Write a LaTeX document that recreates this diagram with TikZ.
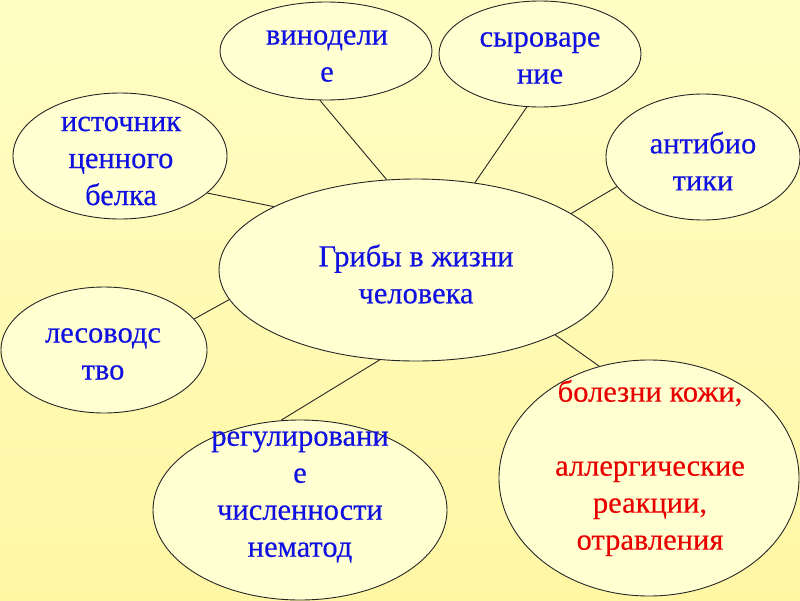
\documentclass[tikz,border=0pt]{standalone}
\usepackage{fontspec}
\setmainfont{Liberation Serif}
\newfontfamily\slidefont[FakeBold=0.35]{Liberation Serif}
\usepackage{xcolor}
\usetikzlibrary{shapes.geometric}

\definecolor{bgtop}{RGB}{255,253,196}
\definecolor{bgbot}{RGB}{255,247,164}
\definecolor{blobfill}{RGB}{255,255,210}
\definecolor{txtblue}{RGB}{16,16,224}
\definecolor{txtred}{RGB}{232,0,0}

\begin{document}
\begin{tikzpicture}[x=1pt, y=-1pt,
		blob/.style={ellipse, draw=black!85, line width=0.9pt, fill=blobfill, inner sep=0pt},
		bluetxt/.style={align=center, text=txtblue, font=\slidefont\fontsize{30.5}{37}\selectfont},
		redtxt/.style={align=center, text=txtred, font=\slidefont\fontsize{30.5}{37}\selectfont},
		link/.style={draw=black!85, line width=0.9pt}]
		\useasboundingbox (0,0) rectangle (800,600);
		\shade[top color=bgtop, bottom color=bgbot] (0,0) rectangle (800,600);
		% ellipses
		\node[blob, minimum width=394, minimum height=182] (cen) at (416,270) {};
		\node[blob, minimum width=212, minimum height=98] (vin) at (326,51) {};
		\node[blob, minimum width=202, minimum height=106] (syr) at (540,54) {};
		\node[blob, minimum width=194, minimum height=126] (ant) at (703,157) {};
		\node[blob, minimum width=214, minimum height=126] (ist) at (120,156) {};
		\node[blob, minimum width=206, minimum height=126] (les) at (104,350) {};
		\node[blob, minimum width=294, minimum height=180] (reg) at (300,510) {};
		\node[blob, minimum width=300, minimum height=236] (bol) at (649,478) {};
		% connectors
		\draw[link] (vin.263) -- (cen.108);
		\draw[link] (syr.256) -- (cen.56);
		\draw[link] (ant.199) -- (cen.20);
		\draw[link] (ist.337) -- (cen.156);
		\draw[link] (les.19) -- (cen.189);
		\draw[link] (reg.102) -- (cen.248);
		\draw[link] (bol.114) -- (cen.335);
		% texts
		\node[bluetxt] (cenT) at (416,274) {Грибы в жизни\\человека};
		\node[bluetxt] (vinT) at (327,56) {винодели\\е};
		\node[bluetxt] (syrT) at (540,58) {сыроваре\\ние};
		\node[bluetxt] (antT) at (703,161) {антибио\\тики};
		\node[bluetxt] (istT) at (121,161) {источник\\ценного\\белка};
		\node[bluetxt] (lesT) at (103,354) {лесоводс\\тво};
		\node[bluetxt] (regT) at (300,497) {регулировани\\е\\численности\\нематод};
		\node[redtxt] (bolT) at (650,468) {болезни кожи,\\[37pt]аллергические\\реакции,\\отравления};
\end{tikzpicture}
\end{document}
